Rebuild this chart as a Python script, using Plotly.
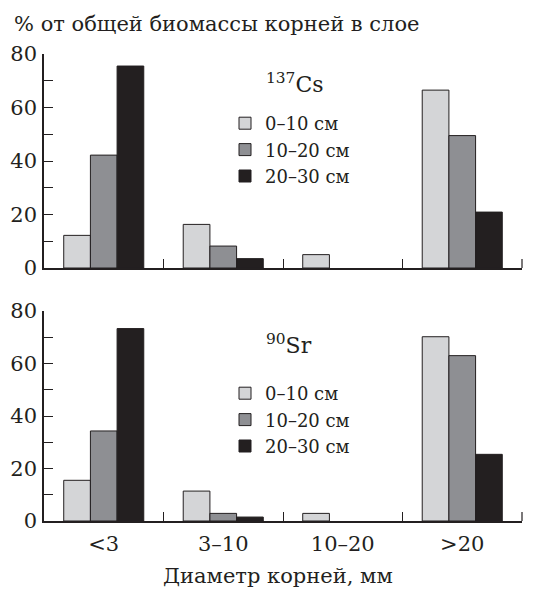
import plotly.graph_objects as go

categories = ["<3", "3\u201310", "10\u201320", ">20"]
series_names = ["0\u201310 см", "10\u201320 см", "20\u201330 см"]
cs_values = [
    [12.2, 16.3, 5.0, 66.5],
    [42.2, 8.2, None, 49.5],
    [75.5, 3.5, None, 20.9],
]
sr_values = [
    [15.5, 11.4, 2.9, 70.2],
    [34.3, 2.9, None, 63.0],
    [73.3, 1.5, None, 25.4],
]
colors = ["#d4d5d7", "#8e8f93", "#231f20"]
y_ticks = [0, 20, 40, 60, 80]

W, H = 544, 589
OFF = 8  # page body margin
FONT = "DejaVu Serif"
INK = "#231f20"

fig = go.Figure()
for i, name in enumerate(series_names):
    fig.add_trace(go.Bar(x=categories, y=cs_values[i], name=name,
                         marker=dict(color=colors[i], line=dict(color=INK, width=1)),
                         xaxis="x", yaxis="y", legend="legend"))
for i, name in enumerate(series_names):
    fig.add_trace(go.Bar(x=categories, y=sr_values[i], name=name,
                         marker=dict(color=colors[i], line=dict(color=INK, width=1)),
                         xaxis="x2", yaxis="y2", legend="legend2"))

def px_x(p):
    return (p - OFF) / W

def px_y(p):
    return 1 - (p - OFF) / H

axis_common = dict(showline=True, linecolor=INK, linewidth=1.5, showgrid=False,
                   zeroline=False, ticks="inside", ticklen=9, tickcolor=INK,
                   tickwidth=1.2, automargin=False,
                   tickfont=dict(family=FONT, size=21, color=INK))
minor = dict(dtick=10, ticks="inside", ticklen=9, tickcolor=INK, tickwidth=1.2)

xdom = [px_x(44), px_x(522)]
fig.update_layout(
    width=W, height=H, autosize=False,
    margin=dict(l=0, r=0, t=0, b=0, pad=0, autoexpand=False),
    paper_bgcolor="white", plot_bgcolor="white",
    barmode="group", bargap=0.33, bargroupgap=0,
    font=dict(family=FONT, color=INK),
    xaxis=dict(domain=xdom, anchor="y", type="category", tickson="boundaries",
               showticklabels=False, **axis_common),
    yaxis=dict(domain=[px_y(268), px_y(54)], anchor="x", range=[0, 80],
               tickvals=y_ticks, minor=minor, ticklabelstandoff=1, **axis_common),
    xaxis2=dict(domain=xdom, anchor="y2", type="category", tickson="boundaries",
                ticklabelstandoff=3, **axis_common),
    yaxis2=dict(domain=[px_y(521), px_y(311)], anchor="x2", range=[0, 80],
                tickvals=y_ticks, minor=minor, ticklabelstandoff=1, **axis_common),
    legend=dict(x=px_x(225), y=px_y(105), xanchor="left", yanchor="top",
                font=dict(family=FONT, size=18, color=INK),
                bgcolor="rgba(0,0,0,0)", tracegroupgap=0, itemwidth=30),
    legend2=dict(x=px_x(225), y=px_y(375), xanchor="left", yanchor="top",
                 font=dict(family=FONT, size=18, color=INK),
                 bgcolor="rgba(0,0,0,0)", tracegroupgap=0, itemwidth=30),
    showlegend=True,
    shapes=[
        dict(type="line", xref="x domain", yref="y domain", x0=1, x1=1, y0=0, y1=0.042,
             line=dict(color=INK, width=1.2)),
        dict(type="line", xref="x2 domain", yref="y2 domain", x0=1, x1=1, y0=0, y1=0.043,
             line=dict(color=INK, width=1.2)),
    ],
    annotations=[
        dict(text="% от общей биомассы корней в слое", x=px_x(12), y=px_y(24),
             xref="paper", yref="paper", xanchor="left", yanchor="middle",
             showarrow=False, font=dict(family=FONT, size=21, color=INK)),
        dict(text="<sup>137</sup>Cs", x=px_x(264), y=px_y(83),
             xref="paper", yref="paper", xanchor="left", yanchor="middle",
             showarrow=False, font=dict(family=FONT, size=22, color=INK)),
        dict(text="<sup>90</sup>Sr", x=px_x(264), y=px_y(344),
             xref="paper", yref="paper", xanchor="left", yanchor="middle",
             showarrow=False, font=dict(family=FONT, size=22, color=INK)),
        dict(text="Диаметр корней, мм", x=px_x(278), y=px_y(576),
             xref="paper", yref="paper", xanchor="center", yanchor="middle",
             showarrow=False, font=dict(family=FONT, size=21, color=INK)),
    ],
)

fig.write_html("out.html")
